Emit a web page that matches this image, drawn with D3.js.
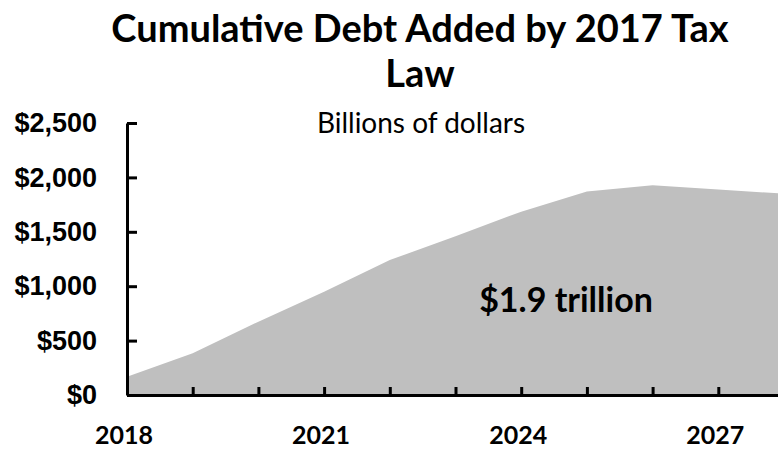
<!DOCTYPE html>
<html>
<head>
<meta charset="utf-8">
<script src="https://cdn.jsdelivr.net/npm/d3@7"></script>
<style>
  body { margin: 0; background: #fff; }
  svg { display: block; font-family: Lato, 'Open Sans', sans-serif; }
</style>
</head>
<body>
<svg id="chart" width="778" height="451"></svg>
<script>
// cumulative debt added, billions of dollars
const years = [2018, 2019, 2020, 2021, 2022, 2023, 2024, 2025, 2026, 2027, 2028];
const debt = [167, 383, 674, 950, 1240, 1460, 1685, 1870, 1927, 1889, 1850];
const yTicks = [0, 500, 1000, 1500, 2000, 2500];
const xLabels = [2018, 2021, 2024, 2027];

const axisColor = '#000';
const areaColor = '#bfbfbf';

const svg = d3.select('#chart');

// plot runs off the right edge, like the source crop
const x = d3.scaleLinear().domain([2018, 2028]).range([127, 784]);
const y = d3.scaleLinear().domain([0, 2500]).range([395, 123]);

const data = years.map((yr, i) => ({ year: yr, value: debt[i] }));

svg.append('path')
  .datum(data)
  .attr('fill', areaColor)
  .attr('d', d3.area()
    .x((d) => x(d.year))
    .y0(y(0))
    .y1((d) => y(d.value)));

// y axis, ticks pointing into the plot
const yAxis = svg.append('g')
  .attr('transform', `translate(${x(2018)},0)`)
  .call(d3.axisLeft(y).tickValues(yTicks).tickSize(-10).tickSizeOuter(0)
    .tickFormat((d) => '$' + d3.format(',')(d)));

yAxis.select('.domain').attr('stroke', axisColor).attr('stroke-width', 3);
yAxis.selectAll('.tick line').attr('stroke', axisColor).attr('stroke-width', 3);
yAxis.selectAll('.tick text')
  .attr('x', -30)
  .attr('fill', '#000')
  .attr('font-size', 27)
  .attr('font-weight', 'bold');

// x axis, a tick every year, a label every third
const xAxis = svg.append('g')
  .attr('transform', `translate(0,${y(0)})`)
  .call(d3.axisBottom(x).tickValues(years.slice(1, -1)).tickSize(-8).tickSizeOuter(0)
    .tickFormat(() => ''));

xAxis.select('.domain').attr('stroke', axisColor).attr('stroke-width', 3);
xAxis.selectAll('.tick line').attr('stroke', axisColor).attr('stroke-width', 3);

svg.append('g')
  .selectAll('text')
  .data(xLabels)
  .join('text')
  .attr('x', (d) => x(d) - 3)
  .attr('y', 444)
  .attr('text-anchor', 'middle')
  .attr('font-size', 25)
  .attr('font-weight', 'bold')
  .text((d) => d);

// title and notes
const titleLines = ['Cumulative Debt Added by 2017 Tax', 'Law'];
svg.append('g')
  .selectAll('text')
  .data(titleLines)
  .join('text')
  .attr('x', 420)
  .attr('y', (d, i) => 42 + i * 45)
  .attr('text-anchor', 'middle')
  .attr('font-size', 38)
  .attr('font-weight', 'bold')
  .text((d) => d);

svg.append('text')
  .attr('x', 421)
  .attr('y', 133)
  .attr('text-anchor', 'middle')
  .attr('font-size', 28)
  .text('Billions of dollars');

svg.append('text')
  .attr('x', 566)
  .attr('y', 312)
  .attr('text-anchor', 'middle')
  .attr('font-size', 34)
  .attr('font-weight', 'bold')
  .text('$1.9 trillion');
</script>
</body>
</html>
